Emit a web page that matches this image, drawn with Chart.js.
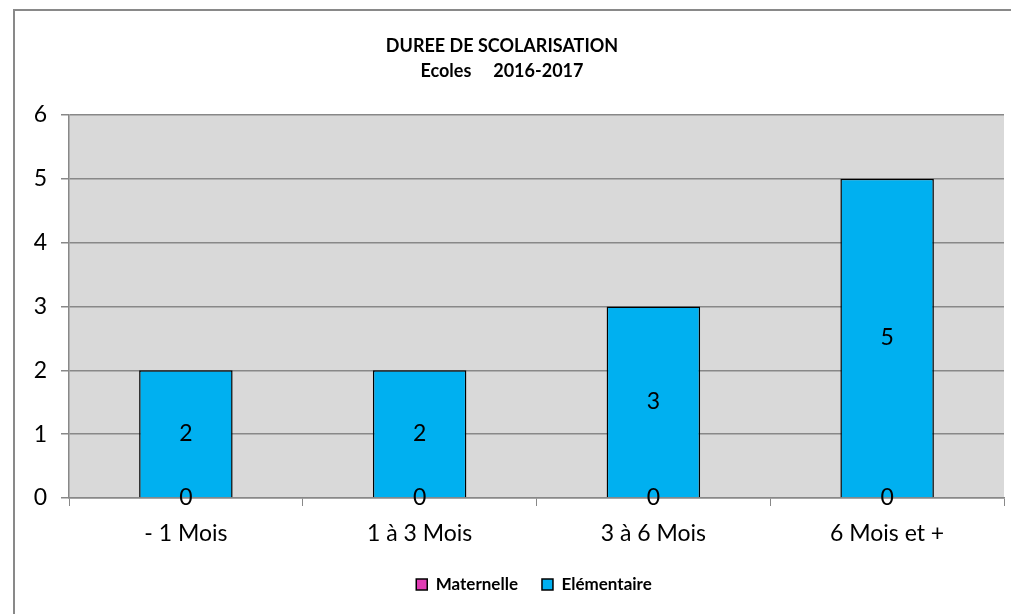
<!DOCTYPE html>
<html>
<head>
<meta charset="utf-8">
<script src="https://cdn.jsdelivr.net/npm/chart.js@4/dist/chart.umd.min.js"></script>
<style>
  html, body { margin: 0; padding: 0; background: #fff; }
  #wrap { width: 1011px; height: 614px; position: relative; }
</style>
</head>
<body>
<div id="wrap"><canvas id="c" width="1011" height="614"></canvas></div>
<script>
const categories = ['- 1 Mois', '1 à 3 Mois', '3 à 6 Mois', '6 Mois et +'];
const maternelle = [0, 0, 0, 0];
const elementaire = [2, 2, 3, 5];
const yTicks = [0, 1, 2, 3, 4, 5, 6];
const titleLines = ['DUREE DE SCOLARISATION', 'Ecoles     2016-2017'];

const FONT = 'Lato, "Open Sans", sans-serif';

const framePlugin = {
  id: 'frame',
  afterLayout(chart) {
    if (chart.legend) {
      chart.legend.left += 32;
      chart.legend.right += 32;
    }
  },
  beforeDraw(chart) {
    const ctx = chart.ctx, a = chart.chartArea;
    ctx.save();
    ctx.fillStyle = '#fff';
    ctx.fillRect(0, 0, chart.width, chart.height);
    ctx.strokeStyle = '#898989';
    ctx.lineWidth = 2;
    ctx.strokeRect(14, 10, 1200, 800);
    ctx.fillStyle = '#D9D9D9';
    ctx.fillRect(a.left, a.top, a.right - a.left, a.bottom - a.top);
    ctx.restore();
  }
};

const labelPlugin = {
  id: 'vlabels',
  afterDatasetsDraw(chart) {
    const ctx = chart.ctx;
    ctx.save();
    ctx.font = '23px ' + FONT;
    ctx.fillStyle = '#000';
    ctx.textAlign = 'center';
    ctx.textBaseline = 'middle';
    chart.data.datasets.forEach((ds, di) => {
      const meta = chart.getDatasetMeta(di);
      meta.data.forEach((bar, i) => {
        const y = (bar.y + bar.base) / 2;
        ctx.fillText(String(ds.data[i]), bar.x, y);
      });
    });
    ctx.restore();
  }
};

new Chart(document.getElementById('c'), {
  type: 'bar',
  data: {
    labels: categories,
    datasets: [
      { label: 'Maternelle', data: maternelle, backgroundColor: '#E03CB4', borderColor: '#000', borderWidth: 0 },
      { label: 'Elémentaire', data: elementaire, backgroundColor: '#00B0F0', borderColor: '#000', borderWidth: 1.5 }
    ]
  },
  options: {
    responsive: false,
    animation: false,
    devicePixelRatio: 1,
    categoryPercentage: 1.0,
    barPercentage: 0.4,
    layout: { padding: { left: 0, right: 7, top: 0, bottom: 11 } },
    plugins: {
      title: {
        display: true,
        text: titleLines,
        color: '#000',
        font: { family: FONT, size: 18, weight: 'bold', lineHeight: 1.39 },
        padding: { top: 34, bottom: 31 }
      },
      legend: {
        position: 'bottom',
        labels: {
          color: '#000',
          font: { family: FONT, size: 17, weight: 'bold' },
          boxWidth: 11,
          boxHeight: 11,
          padding: 24,
          generateLabels(chart) {
            return chart.data.datasets.map((ds, i) => ({
              text: ds.label,
              fillStyle: ds.backgroundColor,
              strokeStyle: '#000',
              lineWidth: 1.5,
              hidden: false,
              datasetIndex: i,
              fontColor: '#000'
            }));
          }
        }
      },
      tooltip: { enabled: false }
    },
    scales: {
      x: {
        stacked: true,
        grid: { display: true, drawOnChartArea: false, drawTicks: true, tickLength: 8, color: '#888', offset: true },
        border: { display: true, color: '#888', width: 1.5 },
        ticks: { color: '#000', font: { family: FONT, size: 23 }, padding: 14 },
        afterFit(scale) { scale.height = 54; }
      },
      y: {
        stacked: true,
        min: 0,
        max: 6,
        afterBuildTicks(scale) { scale.ticks = yTicks.map(v => ({ value: v })); },
        grid: { color: '#888', lineWidth: 1.5, tickLength: 8, drawTicks: true },
        border: { display: true, color: '#888', width: 1.5 },
        ticks: { color: '#000', font: { family: FONT, size: 23 }, padding: 14 },
        afterFit(scale) { scale.width = 69; }
      }
    }
  },
  plugins: [framePlugin, labelPlugin]
});
</script>
</body>
</html>
